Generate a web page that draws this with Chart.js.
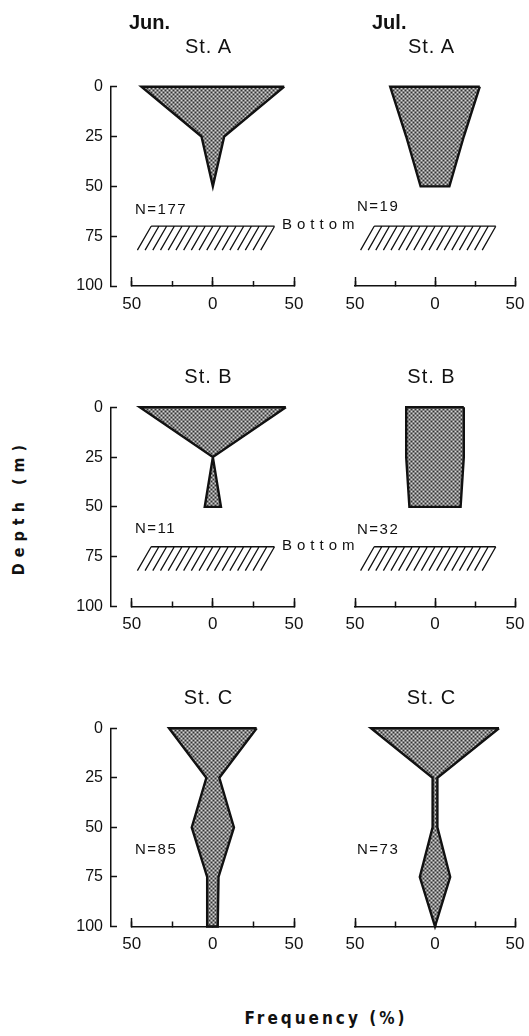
<!DOCTYPE html>
<html lang="en">
<head>
<meta charset="UTF-8">
<title>Depth distribution by station - Jun. / Jul.</title>
<script src="https://cdn.jsdelivr.net/npm/chart.js"></script>
<style>
    body {
        margin: 0;
        background: #fff;
        width: 529px;
        height: 1036px;
        position: relative;
        overflow: hidden;
        font-family: "Liberation Sans", Arial, sans-serif;
        color: #111;
    }
    canvas, .lbl {
        position: absolute;
    }
    .lbl {
        white-space: nowrap;
        line-height: 1;
        transform: translate(0, -50%);
    }
    .month { font-size: 20px; font-weight: bold; }
    .st { font-size: 20px; letter-spacing: 1px; transform: translate(-50%, -50%); }
    .n { font-size: 15px; letter-spacing: 1.5px; }
    .bottom { font-size: 15px; letter-spacing: 5px; }
    .axtitle {
        font-family: "DejaVu Sans Condensed", "Liberation Sans Narrow", sans-serif;
        font-weight: bold;
    }
</style>
</head>
<body>

<script>
// depth levels (m)
var depths = [0, 25, 50, 75, 100];

// half width of each kite (%) at the depth levels above
var junA = [44, 7, 0];
var julA = [28, 18, 9];
var junB = [45, 0, 5];
var julB = [18, 18, 16];
var junC = [27, 4, 13, 3.5, 3];
var julC = [40, 1.5, 1.5, 9.5, 0];

var counts = [[177, 19], [11, 32], [85, 73]];
var stations = ['St. A', 'St. B', 'St. C'];
var months = ['Jun.', 'Jul.'];
var bottoms = [70, 70, null];   // depth of the hatched bottom, none at St. C

var depthTicks = [0, 25, 50, 75, 100];
var freqTicks = [-50, -25, 0, 25, 50];
var freqMajor = [-50, 0, 50];
var freqLabels = ['50', '', '0', '', '50'];

// page layout (pixels)
var colX = [[131.7, 294], [355, 515]];
var rowY = [[86.7, 286], [407.3, 606.5], [728.3, 926.5]];

var ink = '#111';
var tickFont = { family: '"Liberation Sans", Arial, sans-serif', size: 17 };

function addCanvas(left, top, w, h) {
    var cv = document.createElement('canvas');
    cv.width = w;
    cv.height = h;
    cv.style.left = left + 'px';
    cv.style.top = top + 'px';
    cv.style.width = w + 'px';
    cv.style.height = h + 'px';
    document.body.appendChild(cv);
    return cv;
}

function label(text, cls, x, y) {
    var d = document.createElement('div');
    d.className = 'lbl ' + cls;
    d.textContent = text;
    d.style.left = x + 'px';
    d.style.top = y + 'px';
    document.body.appendChild(d);
    return d;
}

// closed outline: right side going down, left side coming back up
function kite(half) {
    var right = half.map(function (w, i) { return { x: w, y: depths[i] }; });
    var left = half.map(function (w, i) { return { x: -w, y: depths[i] }; }).reverse();
    return right.concat(left, [right[0]]);
}

// dotted grey screen like the printed fill
function stipple(cv) {
    var c = document.createElement('canvas');
    c.width = 4; c.height = 4;
    var g = c.getContext('2d');
    g.fillStyle = '#848484';
    g.fillRect(0, 0, 4, 4);
    g.fillStyle = '#d4d4d4';
    g.fillRect(0, 0, 1, 1);
    g.fillRect(2, 2, 1, 1);
    g.fillStyle = '#333333';
    g.fillRect(2, 0, 1, 1);
    g.fillRect(0, 2, 1, 1);
    return cv.getContext('2d').createPattern(c, 'repeat');
}

// hatched sea bottom
var hatchPlugin = {
    id: 'hatch',
    afterDatasetsDraw: function (chart, args, opts) {
        if (opts.top == null) return;
        var x = chart.scales.x, y = chart.scales.y, ctx = chart.ctx;
        var y0 = y.getPixelForValue(opts.top), y1 = y.getPixelForValue(opts.top + 12);
        ctx.save();
        ctx.strokeStyle = ink;
        ctx.lineWidth = 1.3;
        ctx.beginPath();
        ctx.moveTo(x.getPixelForValue(-38), y0);
        ctx.lineTo(x.getPixelForValue(38), y0);
        for (var i = 0; i <= 16; i++) {
            var v = -38 + i * 4.75;
            ctx.moveTo(x.getPixelForValue(v), y0);
            ctx.lineTo(x.getPixelForValue(v - 8.5), y1);
        }
        ctx.stroke();
        ctx.restore();
    }
};

function panel(r, c, half) {
    var L = colX[c][0], R = colX[c][1], T = rowY[r][0], B = rowY[r][1];
    // side margins wider than the label overhang plus tick padding
    var left = Math.floor(L) - 30, top = Math.floor(T) - 10;
    var w = Math.ceil(R) + 30 - left, h = Math.ceil(B) + 36 - top;
    var cv = addCanvas(left, top, w, h);
    new Chart(cv, {
        type: 'scatter',
        data: {
            datasets: [{
                data: kite(half),
                showLine: true,
                fill: 'shape',
                backgroundColor: stipple(cv),
                borderColor: ink,
                borderWidth: 2.4,
                pointRadius: 0,
                tension: 0,
                clip: false
            }]
        },
        options: {
            responsive: false,
            animation: false,
            events: [],
            layout: { padding: { left: L - left, right: left + w - R, top: T - top, bottom: 0 } },
            plugins: {
                legend: { display: false },
                tooltip: { enabled: false },
                hatch: { top: bottoms[r] }
            },
            scales: {
                x: {
                    type: 'linear', min: -50, max: 50,
                    afterBuildTicks: function (s) { s.ticks = freqTicks.map(function (v) { return { value: v }; }); },
                    afterFit: function (s) { s.height = h - (B - top); },
                    border: { color: ink, width: 1.5 },
                    grid: { drawOnChartArea: false, tickLength: -5, tickColor: ink, tickWidth: 1.5 },
                    ticks: {
                        padding: 13, color: ink, font: tickFont, maxRotation: 0, autoSkip: false,
                        callback: function (v) { return freqLabels[freqTicks.indexOf(v)]; }
                    }
                },
                // longer marks at 50 / 0 / 50
                xMajor: {
                    type: 'linear', axis: 'x', min: -50, max: 50, position: { y: 100 },
                    afterBuildTicks: function (s) { s.ticks = freqMajor.map(function (v) { return { value: v }; }); },
                    border: { display: false },
                    grid: { drawOnChartArea: false, tickLength: -9, tickColor: ink, tickWidth: 1.5 },
                    ticks: { display: false }
                },
                y: { display: false, min: 0, max: 100, reverse: true }
            }
        },
        plugins: [hatchPlugin]
    });
}

function depthAxis(r) {
    var T = rowY[r][0], B = rowY[r][1];
    var W = 60, left = 51, top = Math.floor(T) - 30;
    var h = Math.ceil(B) + 30 - top;
    var cv = addCanvas(left, top, W + 20, h);
    new Chart(cv, {
        type: 'scatter',
        data: { datasets: [] },
        options: {
            responsive: false,
            animation: false,
            events: [],
            layout: { padding: { left: 0, right: 0, top: T - top, bottom: h - (B - top) } },
            plugins: { legend: { display: false }, tooltip: { enabled: false } },
            scales: {
                x: { display: false, min: -1, max: 1 },
                y: {
                    min: 0, max: 100, reverse: true,
                    afterFit: function (s) { s.width = W; },
                    afterBuildTicks: function (s) { s.ticks = depthTicks.map(function (v) { return { value: v }; }); },
                    border: { color: ink, width: 1.5 },
                    grid: { drawOnChartArea: false, tickLength: -6, tickColor: ink, tickWidth: 1.5 },
                    ticks: { padding: 14, color: ink, font: { family: tickFont.family, size: 16 } }
                }
            }
        }
    });
}

var kites = [[junA, julA], [junB, julB], [junC, julC]];
var titleY = [45.5, 376, 697];
var titleX = [208.5, 431.5];
var countY = [[207.7, 205], [527, 528], [847.5, 848]];

for (var r = 0; r < 3; r++) {
    depthAxis(r);
    for (var c = 0; c < 2; c++) {
        panel(r, c, kites[r][c]);
        label(stations[r], 'st', titleX[c], titleY[r]);
        label('N=' + counts[r][c], 'n', c === 0 ? 135 : 357, countY[r][c]);
    }
    if (bottoms[r] != null) label('Bottom', 'bottom', 282, r === 0 ? 223 : 543.7);
}

label(months[0], 'month', 129, 22);
label(months[1], 'month', 372, 22);

var yt = label('Depth (m)', 'axtitle', 19, 507);
yt.style.fontSize = '16px';
yt.style.letterSpacing = '6px';
yt.style.transform = 'translate(-50%, -50%) rotate(-90deg)';

var xt = label('Frequency (%)', 'axtitle', 326, 1018);
xt.style.fontSize = '17px';
xt.style.letterSpacing = '3px';
xt.style.transform = 'translate(-50%, -50%)';
</script>

</body>
</html>
